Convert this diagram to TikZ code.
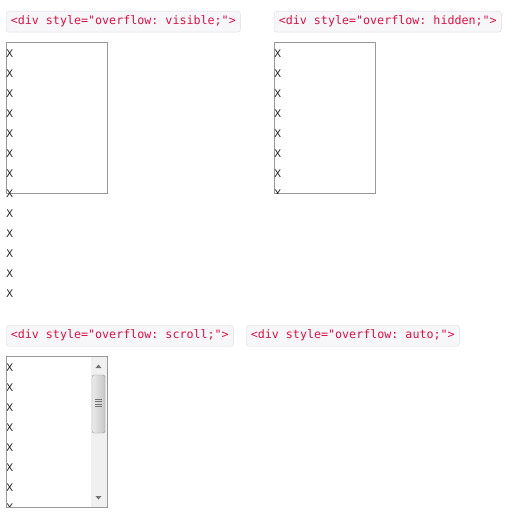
\documentclass[tikz,border=0pt]{standalone}
\usepackage{fontspec}
\setmonofont{DejaVu Sans Mono}
\setsansfont{DejaVu Sans}
\definecolor{codered}{HTML}{DD1144}
\definecolor{codebg}{HTML}{F7F7F9}
\definecolor{codeedge}{HTML}{DCDCE4}
\definecolor{boxedge}{HTML}{999999}
\definecolor{xtext}{HTML}{2A2A2A}
\definecolor{trackbg}{HTML}{F0F0F0}
\definecolor{thumbedge}{HTML}{9A9A9A}
\tikzset{
  codelabel/.style={draw=codeedge,fill=codebg,rounded corners=3pt,anchor=north west,
    minimum height=21pt,inner xsep=4.6pt,inner ysep=0pt,text=codered,
    font=\ttfamily\fontsize{11.68}{14}\selectfont},
  divbox/.style={draw=boxedge,rectangle,minimum width=101pt,minimum height=151pt,
    anchor=north west,inner sep=0pt},
  xmark/.style={text=xtext,inner sep=0pt,font=\sffamily\fontsize{10.5}{12}\selectfont}
}
\begin{document}
\begin{tikzpicture}[x=1pt,y=-1pt]
        \useasboundingbox (0,0) rectangle (515,519);
        %% Labels
        \node[codelabel] (lblvisible) at (6,11) {<div style="overflow: visible;">};
        \node[codelabel] (lblhidden) at (274,11) {<div style="overflow: hidden;">};
        \node[codelabel] (lblscroll) at (6,325) {<div style="overflow: scroll;">};
        \node[codelabel] (lblauto) at (246,325) {<div style="overflow: auto;">};
        %% Boxes
        \node[divbox] (visible) at (6,42) {};
        \node[divbox] (hidden) at (274,42) {};
        \node[divbox,fill=white] (scroll) at (6,356) {};
        %% Content: visible
        \foreach \i in {0,...,12}
          \node[xmark] (vis-\i) at (9.7,53.5+20*\i) {X};
        %% Content: hidden
        \begin{scope}
          \clip (hidden.north west) rectangle (hidden.south east);
          \foreach \i in {0,...,7}
            \node[xmark] (hid-\i) at (277.7,53.5+20*\i) {X};
        \end{scope}
        %% Content: scroll
        \begin{scope}
          \clip (scroll.north west) rectangle (scroll.south east);
          \foreach \i in {0,...,7}
            \node[xmark] (scr-\i) at (9.7,368+20*\i) {X};
        \end{scope}
        %% Scrollbar
        \fill[trackbg] (91,356.5) rectangle (106.5,506.5);
        \fill[black!55] (95.5,368) -- (101.5,368) -- (98.5,364.5) -- cycle;
        \fill[black!55] (95.5,496) -- (101.5,496) -- (98.5,499.5) -- cycle;
        \shade[left color=black!8,right color=black!22,draw=thumbedge,rounded corners=1.5pt]
          (92,375) rectangle (105,433);
        \foreach \g in {399,401.5,404,406.5}
          \draw[black!55,line width=0.7pt] (95,\g) -- (102,\g);
        \draw[boxedge] (scroll.north west) rectangle (scroll.south east);
    \end{tikzpicture}
\end{document}
